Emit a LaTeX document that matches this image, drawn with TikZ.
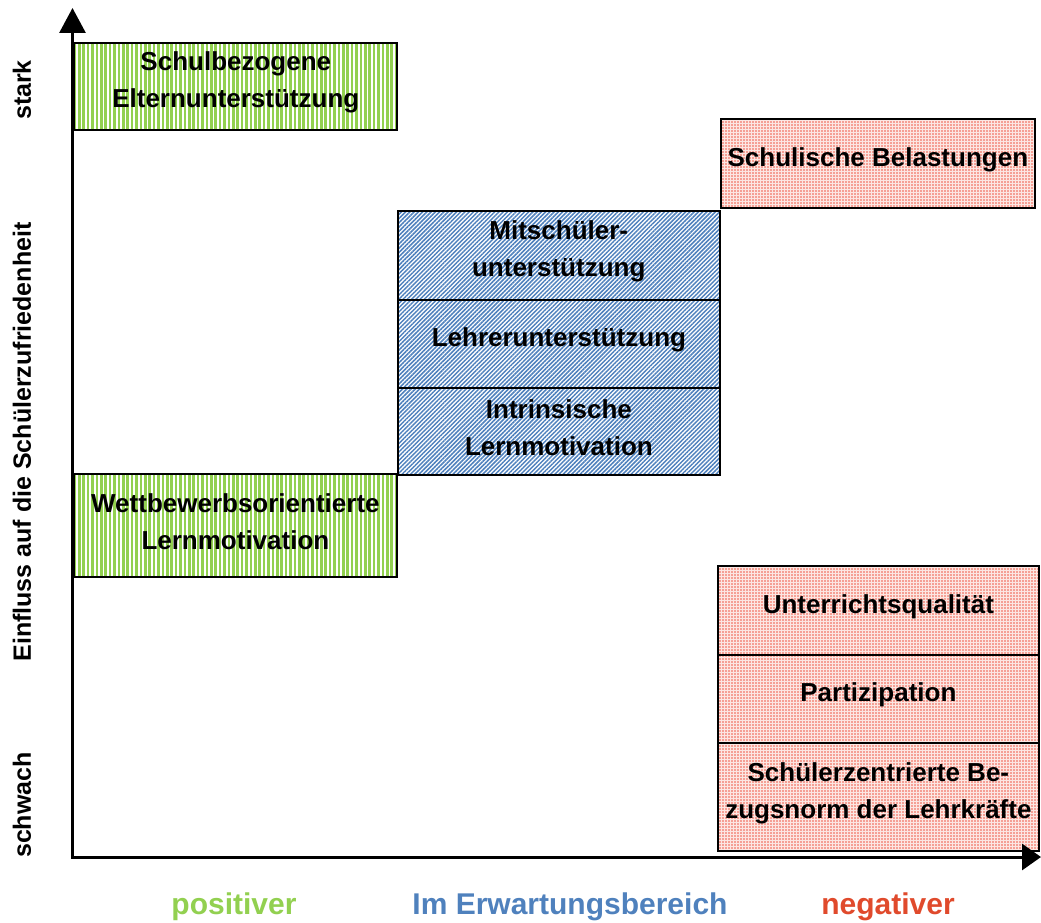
\documentclass[tikz,border=0pt]{standalone}
\usepackage{fontspec}
\setmainfont{Liberation Sans}
\usetikzlibrary{patterns.meta,arrows.meta}
\definecolor{gpos}{HTML}{92D050}
\definecolor{bexp}{HTML}{4F81BD}
\definecolor{rneg}{HTML}{E04A2C}
\definecolor{rdot}{HTML}{EE5A48}
\definecolor{rbg}{HTML}{FCE6E2}
\tikzset{
  boxbase/.style={draw=black, line width=1.8pt, anchor=north west, inner sep=0pt},
  greenbox/.style={boxbase, preaction={fill=white},
    pattern={Lines[angle=90, distance=4.4pt, line width=2.6pt]}, pattern color=gpos},
  bluebox/.style={boxbase, preaction={fill=white},
    pattern={Lines[angle=45, distance=3pt, line width=1.5pt]}, pattern color=bexp},
  redbox/.style={boxbase, preaction={fill=rbg},
    pattern={Dots[distance=3pt, radius=0.85pt]}, pattern color=rdot},
  boxtext/.style={inner sep=0pt, align=center, font=\bfseries\fontsize{26}{37}\selectfont},
  axislabel/.style={rotate=90, font=\bfseries\fontsize{25}{30}\selectfont},
  catlabel/.style={font=\bfseries\fontsize{30}{36}\selectfont},
  axisline/.style={line width=3pt}
}
\begin{document}
\begin{tikzpicture}[x=1pt,y=-1pt]
\useasboundingbox (0,0) rectangle (1041,923);
% green boxes
\node[greenbox, minimum width=323pt, minimum height=87pt] (elt) at (73,42) {};
\node[greenbox, minimum width=323pt, minimum height=103pt] (wett) at (73,473) {};
% blue boxes
\node[bluebox, minimum width=322pt, minimum height=89pt] (mit) at (397,210) {};
\node[bluebox, minimum width=322pt, minimum height=88pt] (leh) at (397,299) {};
\node[bluebox, minimum width=322pt, minimum height=87pt] (int) at (397,387) {};
% red boxes
\node[redbox, minimum width=314pt, minimum height=89pt] (bel) at (720,118) {};
\node[redbox, minimum width=321pt, minimum height=89pt] (unt) at (717,565) {};
\node[redbox, minimum width=321pt, minimum height=88pt] (par) at (717,654) {};
\node[redbox, minimum width=321pt, minimum height=108pt] (sch) at (717,742) {};
% box texts
\node[boxtext] (elt-t) at ([yshift=4pt]elt.center) {Schulbezogene\\Elternunterst\"utzung};
\node[boxtext] (wett-t) at ([yshift=4pt]wett.center) {Wettbewerbsorientierte\\Lernmotivation};
\node[boxtext] (mit-t) at ([yshift=4pt]mit.center) {Mitsch\"uler-\\unterst\"utzung};
\node[boxtext] (leh-t) at ([yshift=4pt]leh.center) {Lehrerunterst\"utzung};
\node[boxtext] (int-t) at ([yshift=4pt]int.center) {Intrinsische\\Lernmotivation};
\node[boxtext] (bel-t) at ([yshift=4pt]bel.center) {Schulische Belastungen};
\node[boxtext] (unt-t) at ([yshift=4pt]unt.center) {Unterrichtsqualit\"at};
\node[boxtext] (par-t) at ([yshift=4pt]par.center) {Partizipation};
\node[boxtext] (sch-t) at ([yshift=4pt]sch.center) {Sch\"ulerzentrierte Be-\\zugsnorm der Lehrkr\"afte};
% axes
\coordinate (O) at (72.5,857);
\coordinate (ytip) at (72.5,8);
\coordinate (xtip) at (1041,857);
\draw[axisline, -{Triangle[width=26pt,length=25pt]}] ([yshift=1.5pt]O) -- (ytip);
\draw[axisline, -{Triangle[width=26pt,length=19pt]}] ([xshift=-1.5pt]O) -- (xtip);
% axis labels
\node[axislabel] (stark) at (22,90) {stark};
\node[axislabel] (einf) at (22,442) {Einfluss auf die Sch\"ulerzufriedenheit};
\node[axislabel] (schw) at (22,805) {schwach};
% category labels
\node[catlabel, text=gpos] (pos) at (234,907) {positiver};
\node[catlabel, text=bexp] (erw) at (570,907) {Im Erwartungsbereich};
\node[catlabel, text=rneg] (neg) at (888,907) {negativer};
\end{tikzpicture}
\end{document}
